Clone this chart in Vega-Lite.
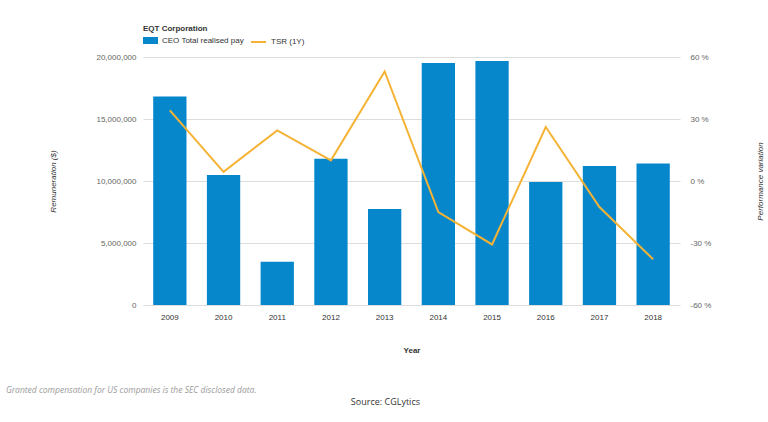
{
  "$schema": "https://vega.github.io/schema/vega-lite/v6.json",
  "background": "white",
  "autosize": {"type": "pad"},
  "padding": {"left": 5, "top": 25, "right": 5, "bottom": 10},
  "config": {
    "font": "Liberation Sans",
    "view": {"stroke": null}
  },
  "title": {
    "text": "Source: CGLytics",
    "orient": "bottom",
    "anchor": "middle",
    "fontSize": 9,
    "font": "Open Sans",
    "fontWeight": "normal",
    "color": "#333333",
    "offset": 3
  },
  "vconcat": [
    {
      "width": 537,
      "height": 248,
      "title": {
        "text": "Granted compensation for US companies is the SEC disclosed data.",
        "orient": "bottom",
        "anchor": "start",
        "frame": "bounds",
        "font": "Open Sans",
        "fontStyle": "italic",
        "fontWeight": "normal",
        "fontSize": 8.5,
        "color": "#9a9a9a",
        "dx": -44,
        "offset": 32
      },
      "data": {
        "values": [
          {"year": "2009", "pay": 16820000, "tsr": 34.2},
          {"year": "2010", "pay": 10480000, "tsr": 4.4},
          {"year": "2011", "pay": 3490000, "tsr": 24.5},
          {"year": "2012", "pay": 11800000, "tsr": 10.0},
          {"year": "2013", "pay": 7740000, "tsr": 53.0},
          {"year": "2014", "pay": 19520000, "tsr": -15.0},
          {"year": "2015", "pay": 19680000, "tsr": -30.7},
          {"year": "2016", "pay": 9920000, "tsr": 26.1},
          {"year": "2017", "pay": 11210000, "tsr": -12.6},
          {"year": "2018", "pay": 11420000, "tsr": -37.9}
        ]
      },
      "encoding": {
        "x": {
          "field": "year",
          "type": "ordinal",
          "scale": {"paddingInner": 0.38, "paddingOuter": 0.19},
          "axis": {
            "title": "Year",
            "titleFontSize": 8,
            "titleFontWeight": "bold",
            "titleColor": "#333333",
            "titlePadding": 25,
            "labelAngle": 0,
            "labelFontSize": 8,
            "labelColor": "#333333",
            "labelPadding": 8,
            "domain": false,
            "ticks": false
          }
        }
      },
      "layer": [
        {
          "mark": {"type": "bar"},
          "encoding": {
            "y": {
              "field": "pay",
              "type": "quantitative",
              "scale": {"domain": [0, 20000000], "nice": false},
              "axis": {
                "title": "Remuneration ($)",
                "titleFontSize": 8,
                "titleFontStyle": "italic",
                "titleFontWeight": "normal",
                "titleColor": "#333333",
                "titlePadding": 38,
                "values": [0, 5000000, 10000000, 15000000, 20000000],
                "format": ",d",
                "labelFontSize": 8,
                "labelColor": "#666666",
                "labelPadding": 7,
                "domain": false,
                "ticks": false,
                "grid": true,
                "gridColor": "#dddddd",
                "gridWidth": 1
              }
            },
            "fill": {
              "datum": "CEO Total realised pay",
              "type": "nominal",
              "scale": {"range": ["#0787cb"]},
              "legend": {
                "title": "EQT Corporation",
                "titleFontSize": 8,
                "titleFontWeight": "bold",
                "titleColor": "#333333",
                "titlePadding": 0,
                "orient": "none",
                "legendX": 0,
                "legendY": -32,
                "symbolType": "M-1,-0.47H1V0.47H-1Z",
                "symbolSize": 225,
                "symbolStrokeWidth": 0,
                "labelFontSize": 8,
                "labelColor": "#333333"
              }
            }
          }
        },
        {
          "mark": {"type": "line", "strokeWidth": 2},
          "encoding": {
            "y": {
              "field": "tsr",
              "type": "quantitative",
              "scale": {"domain": [-60, 60], "nice": false},
              "axis": {
                "orient": "right",
                "title": "Performance variation",
                "titleFontSize": 8,
                "titleFontStyle": "italic",
                "titleFontWeight": "normal",
                "titleColor": "#333333",
                "titlePadding": 54,
                "titleAngle": -90,
                "values": [-60, -30, 0, 30, 60],
                "labelExpr": "datum.value + ' %'",
                "labelFontSize": 8,
                "labelColor": "#666666",
                "labelPadding": 10,
                "domain": false,
                "ticks": false,
                "grid": false
              }
            },
            "stroke": {
              "datum": "TSR (1Y)",
              "type": "nominal",
              "scale": {"range": ["#f5b335"]},
              "legend": {
                "title": null,
                "orient": "none",
                "legendX": 107,
                "legendY": -23.5,
                "symbolType": "stroke",
                "symbolSize": 225,
                "symbolStrokeWidth": 2,
                "labelFontSize": 8,
                "labelColor": "#333333"
              }
            }
          }
        }
      ],
      "resolve": {"scale": {"y": "independent"}}
    }
  ]
}
